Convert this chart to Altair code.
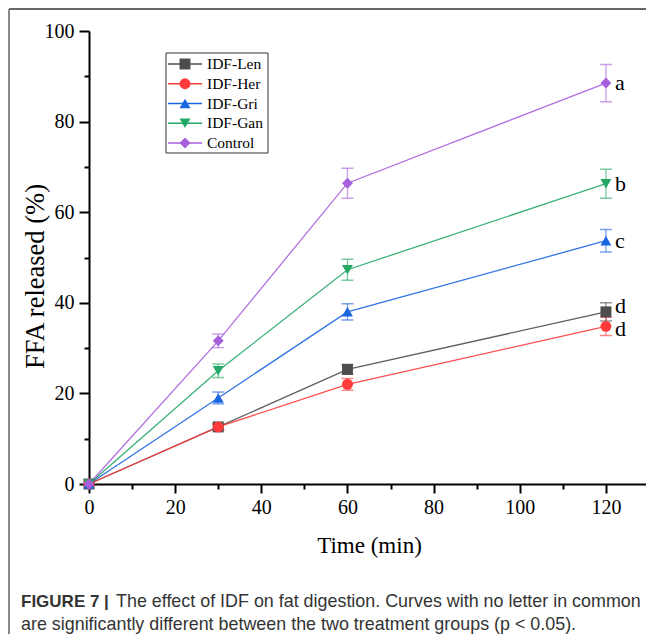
import altair as alt
import pandas as pd

# ---------------- data ----------------
series = ["IDF-Len", "IDF-Her", "IDF-Gri", "IDF-Gan", "Control"]
times = [0, 30, 60, 120]
ffa_len = [0, 12.6, 25.3, 38.0]
ffa_her = [0, 12.6, 22.0, 34.8]
ffa_gri = [0, 19.0, 38.0, 53.7]
ffa_gan = [0, 25.0, 47.3, 66.3]
ffa_ctl = [0, 31.6, 66.4, 88.5]
err_len = [0, 0.6, 1.1, 2.0]
err_her = [0, 0.6, 1.3, 2.0]
err_gri = [0, 1.3, 1.8, 2.5]
err_gan = [0, 1.5, 2.3, 3.2]
err_ctl = [0, 1.5, 3.3, 4.1]
letters = ["d", "d", "c", "b", "a"]
x_ticks = [0, 20, 40, 60, 80, 100, 120]
x_minor = [10, 30, 50, 70, 90, 110, 130]
y_ticks = [0, 20, 40, 60, 80, 100]
y_minor = [10, 30, 50, 70, 90]
caption_bold = "FIGURE 7 |"
caption_line1 = "The effect of IDF on fat digestion. Curves with no letter in common"
caption_line2 = "are significantly different between the two treatment groups (p < 0.05)."

# ---------------- styles ----------------
colors = ["#4d4d4d", "#ff3b3b", "#1a66e0", "#23a866", "#a760dc"]
shapes = ["square", "circle", "triangle-up", "triangle-down", "diamond"]
SERIF = "Liberation Serif"
SANS = "Liberation Sans"

vals = [ffa_len, ffa_her, ffa_gri, ffa_gan, ffa_ctl]
errs = [err_len, err_her, err_gri, err_gan, err_ctl]
rows = []
for s, v, e in zip(series, vals, errs):
    for t, yv, ev in zip(times, v, e):
        rows.append({"series": s, "time": t, "ffa": yv, "lo": yv - ev, "hi": yv + ev})
df = pd.DataFrame(rows)
df["order"] = df["series"].map({s: i for i, s in enumerate(series)})

end_df = df[df["time"] == times[-1]].copy()
end_df["letter"] = letters

color = alt.Color("series:N", scale=alt.Scale(domain=series, range=colors), legend=None)
shape = alt.Shape("series:N", scale=alt.Scale(domain=series, range=shapes), legend=None)

xscale = alt.Scale(domain=[0, 130], nice=False, zero=False, range=[0, 560])
yscale = alt.Scale(domain=[0, 100], nice=False)

x_axis = alt.Axis(values=x_ticks, title="Time (min)", orient="bottom", grid=False,
                  domainColor="black", domainWidth=2, tickColor="black", tickWidth=2,
                  tickSize=9, labelFont=SERIF, labelFontSize=20, labelColor="black",
                  labelPadding=4, labelFlush=False, labelOverlap=False,
                  titleFont=SERIF, titleFontSize=23, titleFontWeight="normal",
                  titleColor="black", titleX=280, titleY=61, titleBaseline="middle")
y_axis = alt.Axis(values=y_ticks, title="FFA released (%)", orient="left", grid=False,
                  domainColor="black", domainWidth=2, tickColor="black", tickWidth=2,
                  tickSize=10, labelFont=SERIF, labelFontSize=20, labelColor="black",
                  labelPadding=5, labelFlush=False, labelOverlap=False,
                  titleFont=SERIF, titleFontSize=26.5, titleFontWeight="normal",
                  titleColor="black", titleX=-54, titleY=245, titleAngle=-90,
                  titleAlign="center", titleBaseline="middle")

base = alt.Chart(df)

lines = base.mark_line(strokeWidth=1.3, opacity=0.9).encode(
    x=alt.X("time:Q", scale=xscale, axis=x_axis),
    y=alt.Y("ffa:Q", scale=yscale, axis=y_axis),
    color=color,
    detail="series:N",
    order="time:Q",
)

minor = base.mark_point(opacity=0).encode(
    x=alt.X("time:Q", scale=xscale,
            axis=alt.Axis(values=x_minor, labels=False, title=None, domain=False, grid=False,
                          orient="bottom", tickColor="black", tickWidth=2, tickSize=5)),
    y=alt.Y("ffa:Q", scale=yscale,
            axis=alt.Axis(values=y_minor, labels=False, title=None, domain=False, grid=False,
                          orient="left", tickColor="black", tickWidth=2, tickSize=5)),
)

err_base = base.transform_filter("datum.time > 0")
err_rule = err_base.mark_rule(strokeWidth=1.3, opacity=0.6).encode(
    x=alt.X("time:Q", scale=xscale, axis=None),
    y=alt.Y("lo:Q", scale=yscale, axis=None),
    y2="hi:Q",
    color=color,
)
err_caps = err_base.transform_fold(["lo", "hi"], as_=["end", "val"]).mark_tick(
    orient="horizontal", size=12, thickness=1.5, opacity=0.6
).encode(
    x=alt.X("time:Q", scale=xscale, axis=None),
    y=alt.Y("val:Q", scale=yscale, axis=None),
    color=color,
)

points = base.mark_point(filled=True, opacity=1, size=120).encode(
    x=alt.X("time:Q", scale=xscale, axis=None),
    y=alt.Y("ffa:Q", scale=yscale, axis=None),
    color=color,
    shape=shape,
    order="order:Q",
)

lab_base = alt.Chart(end_df)
lab_enc = dict(
    x=alt.X("time:Q", scale=xscale, axis=None),
    y=alt.Y("ffa:Q", scale=yscale, axis=None),
    text="letter:N",
)
lab_main = lab_base.transform_filter(
    "datum.series != 'IDF-Len' && datum.series != 'IDF-Her'"
).mark_text(align="left", baseline="middle", dx=9, font=SERIF, fontSize=22, color="black").encode(**lab_enc)
lab_len = lab_base.transform_filter("datum.series == 'IDF-Len'").mark_text(
    align="left", baseline="middle", dx=9, dy=-6, font=SERIF, fontSize=22, color="black").encode(**lab_enc)
lab_her = lab_base.transform_filter("datum.series == 'IDF-Her'").mark_text(
    align="left", baseline="middle", dx=9, dy=3, font=SERIF, fontSize=22, color="black").encode(**lab_enc)

main = alt.layer(lines, minor, err_rule, err_caps, points, lab_main, lab_len, lab_her).resolve_axis(
    x="independent", y="independent")

# ---------------- legend (custom, with line through symbol) ----------------
leg_df = pd.DataFrame({"series": series})
leg_y = alt.Y("series:N", sort=series,
              scale=alt.Scale(type="point", domain=series, range=[33, 112], padding=0), axis=None)
one = alt.Chart(pd.DataFrame({"k": [0]}))
leg_box = one.mark_rect(fill="white", stroke="#333333", strokeWidth=1).encode(
    x=alt.value(77), x2=alt.value(179), y=alt.value(22), y2=alt.value(122))
leg_base = alt.Chart(leg_df)
leg_line = leg_base.mark_rule(strokeWidth=1.3).encode(
    x=alt.value(79), x2=alt.value(113), y=leg_y, color=color)
leg_pts = leg_base.mark_point(filled=True, opacity=1, size=120).encode(
    x=alt.value(96), y=leg_y, color=color, shape=shape)
leg_txt = leg_base.mark_text(align="left", baseline="middle", font=SERIF, fontSize=15.5,
                             color="black").encode(x=alt.value(118), y=leg_y, text="series:N")
legend = alt.layer(leg_box, leg_line, leg_pts, leg_txt)

# ---------------- frame and caption ----------------
frame_top = one.mark_rule(color="#666666", strokeWidth=2).encode(
    x=alt.value(-80), x2=alt.value(570), y=alt.value(-22))
frame_left = one.mark_rule(color="#888888", strokeWidth=2).encode(
    x=alt.value(-80), y=alt.value(-22), y2=alt.value(620))
cap_df = pd.DataFrame({"b": [caption_bold], "l1": [caption_line1], "l2": [caption_line2]})
cap = alt.Chart(cap_df)
cap_b = cap.mark_text(align="left", baseline="alphabetic", font=SANS, fontSize=17,
                      fontWeight="bold", color="#333333").encode(
    x=alt.value(-68), y=alt.value(576), text="b:N")
cap_1 = cap.mark_text(align="left", baseline="alphabetic", font=SANS, fontSize=17.9,
                      color="#333333").encode(x=alt.value(27), y=alt.value(576), text="l1:N")
cap_2 = cap.mark_text(align="left", baseline="alphabetic", font=SANS, fontSize=17.9,
                      color="#333333").encode(x=alt.value(-68), y=alt.value(599), text="l2:N")

chart = alt.layer(main, legend, frame_top, frame_left, cap_b, cap_1, cap_2).resolve_scale(
    y="independent"
).properties(
    width=557, height=453,
    autosize=alt.AutoSizeParams(type="none"),
    padding={"left": 81, "top": 23, "right": 0, "bottom": 150},
    background="white",
).configure_view(stroke=None)

chart.save("out.html", embed_options={"renderer": "svg", "actions": False})
